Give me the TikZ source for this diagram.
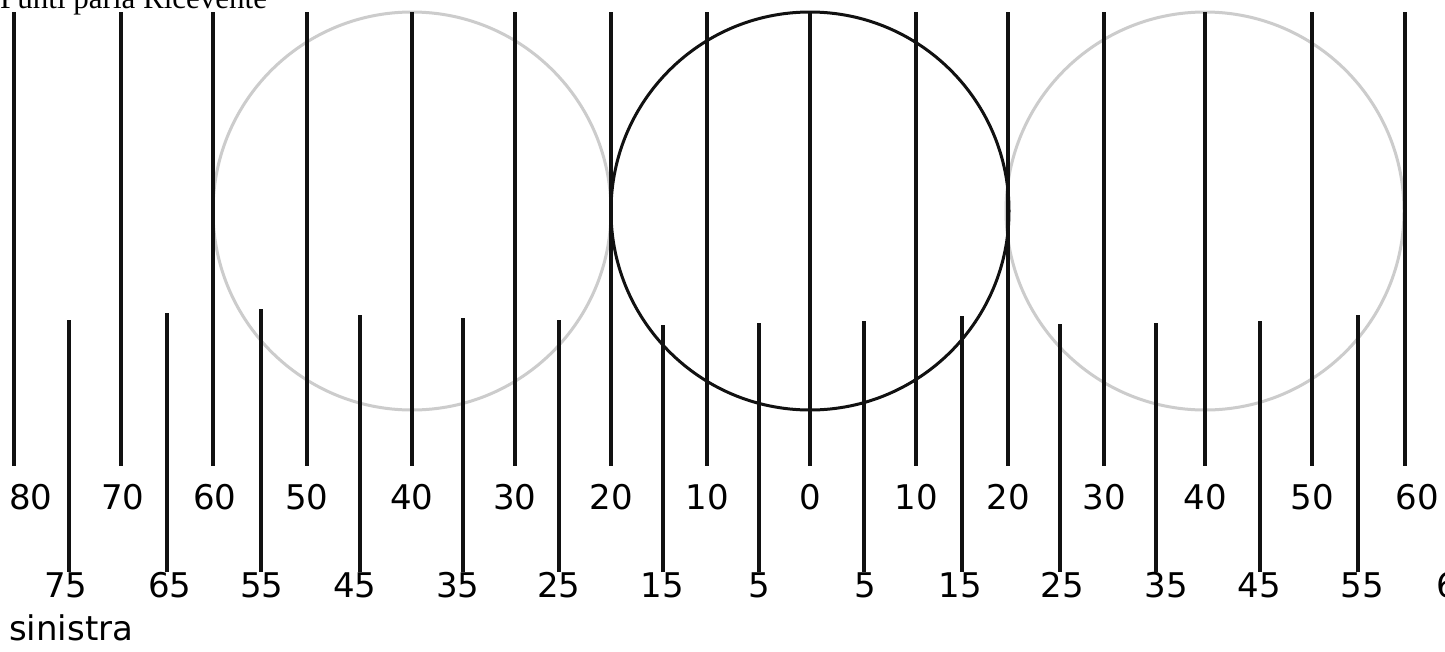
\documentclass[tikz,border=0pt]{standalone}
\usepackage{fontspec}
\setmainfont{Liberation Serif}
\newfontfamily\lblfont{DejaVu Sans}
\usepackage{tikz}
\definecolor{ink}{HTML}{111111}
\definecolor{ringgray}{HTML}{CCCCCC}
\tikzset{tick/.style={ink,line width=3.2pt},
  ring/.style={ringgray,line width=3pt},
  lbl/.style={font=\lblfont\fontsize{34}{40}\selectfont,inner sep=0pt}}
\begin{document}
\begin{tikzpicture}[x=1pt,y=-1pt]
\clip (0,0) rectangle (1445,651);
\fill[white] (0,0) rectangle (1445,651);
% grey rings and the black one
\draw[ring] (412,211) circle (199pt);
\draw[ring] (1205,211) circle (199pt);
% long ticks, every 10
\foreach \x/\lx/\w/\v [count=\i] in {14/31/3.2/80,121/123/3.2/70,213/215/4.4/60,307/307/3.2/50,412/412/3.2/40,515/515/3.2/30,611/611/4.4/20,707/707/3.2/10,810/810/3.2/0,916/916/3.2/10,1008/1008/4.4/20,1104/1104/3.2/30,1205/1205/3.2/40,1312/1312/3.2/50,1405/1417/4.4/60}{%
  \coordinate (lt\i) at (\x,12);
  \coordinate (lb\i) at (\x,466);
  \draw[tick,line width=\w pt] (lt\i)--(lb\i);
  \node[lbl] (ln\i) at (\lx,497) {\v};}
% short ticks, every 5
\foreach \x/\lx/\top/\v [count=\i] in {69/66/320/75,167/170/313/65,261/262/309/55,360/355/315/45,463/458/318/35,559/559/320/25,663/662/325/15,759/759/323/5,864/865/321/5,962/960/316/15,1060/1062/324/25,1156/1166/323/35,1260/1259/321/45,1358/1362/315/55,1456/1458/318/65}{%
  \coordinate (st\i) at (\x,\top);
  \coordinate (sb\i) at (\x,572);
  \draw[tick] (st\i)--(sb\i);
  \node[lbl] (sn\i) at (\lx,585) {\v};}
\draw[ink,line width=3pt] (810,211) circle (199pt);
\node[lbl,anchor=west] (side) at (9,628) {sinistra};
\node[anchor=base west,inner sep=0pt,font=\fontsize{31}{34}\selectfont] (title) at (0,8) {Punti parla Ricevente};
\end{tikzpicture}
\end{document}
